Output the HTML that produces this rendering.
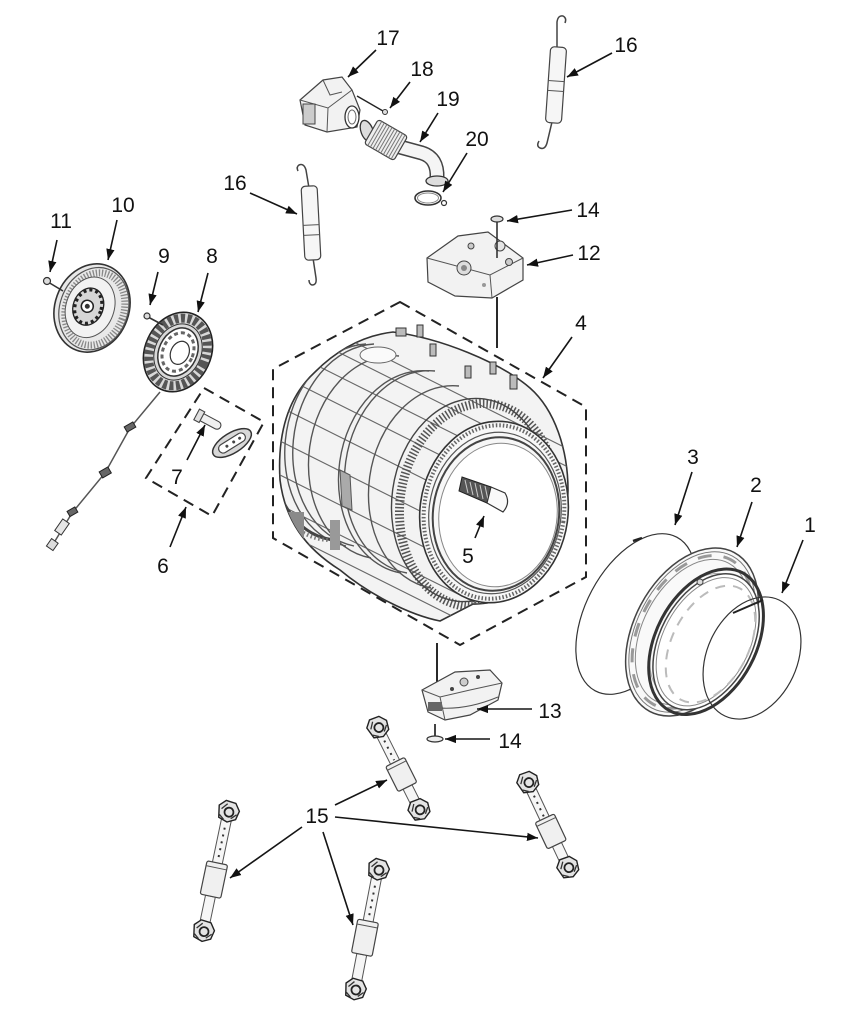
<!DOCTYPE html>
<html><head><meta charset="utf-8"><style>
html,body{margin:0;padding:0;background:#fff}
svg{display:block}
text{font-family:"Liberation Sans",Arial,sans-serif;font-size:21px;fill:#111}
.ld{stroke:#151515;stroke-width:1.6;fill:none}
.ds{stroke:#222;stroke-width:2;fill:none;stroke-dasharray:11 7}
.p{fill:#f2f2f2;stroke:#444;stroke-width:1.2}
.t{fill:none;stroke:#555;stroke-width:1}
.k{fill:none;stroke:#333;stroke-width:1.4}
</style></head><body>
<svg width="867" height="1024" viewBox="0 0 867 1024" xmlns="http://www.w3.org/2000/svg">
<defs>
<marker id="ah" viewBox="0 0 10 10" refX="10" refY="5" markerWidth="11" markerHeight="11" markerUnits="userSpaceOnUse" orient="auto"><path d="M0,1.2 L10,5 L0,8.8 z" fill="#111"/></marker>
<clipPath id="bc"><path d="M393,332 C440,338 500,362 530,388 C555,410 568,450 568,490 C568,560 520,605 473,604 L440,621 C410,615 370,595 340,570 C305,548 285,520 280,480 C277,430 290,395 315,372 C335,352 360,336 393,332 Z"/></clipPath>
<g id="br">
<path d="M-10,-5 L-4,-11 L6,-10 L11,-3 L9,6 L1,10 L-8,7 Z" fill="#e4e4e4" stroke="#222" stroke-width="1.4"/>
<circle cx="1" cy="0" r="4.5" fill="none" stroke="#222" stroke-width="1.8"/>
<path d="M-7,-2 L-2,-8 M4,6 L9,1 M-8,4 L-3,8" stroke="#333" stroke-width="1.3"/>
</g>
</defs>

<!-- ===== Tub (4) ===== -->
<path d="M393,332 C440,338 500,362 530,388 C555,410 568,450 568,490 C568,560 520,605 473,604 L440,621 C410,615 370,595 340,570 C305,548 285,520 280,480 C277,430 290,395 315,372 C335,352 360,336 393,332 Z" fill="#f3f3f3" stroke="#333" stroke-width="1.6"/>
<g clip-path="url(#bc)">
  <g stroke="#666" stroke-width="1.1" fill="none">
    <line x1="270" y1="300" x2="570" y2="450"/>
    <line x1="270" y1="318" x2="570" y2="468"/>
    <line x1="270" y1="342" x2="570" y2="492"/>
    <line x1="270" y1="370" x2="570" y2="520"/>
    <line x1="270" y1="402" x2="570" y2="552"/>
    <line x1="270" y1="436" x2="570" y2="586"/>
    <line x1="270" y1="470" x2="570" y2="620"/>
    <line x1="270" y1="500" x2="570" y2="650"/>
    <line x1="270" y1="525" x2="570" y2="675"/>
  </g>
  <g fill="none" stroke="#555" stroke-width="1.4">
    <path d="M366,344 A78 102 8 0 0 346,546"/>
    <path d="M374,344 A78 102 8 0 0 354,546"/>
    <path d="M399,356 A78 102 8 0 0 371,558"/>
    <path d="M429,371 A78 102 8 0 0 401,573"/>
    <path d="M435,371 A78 102 8 0 0 407,573"/>
    <path d="M459,386 A78 102 8 0 0 431,588"/>
  </g>
  <path d="M352,338 A72 100 8 0 0 338,540" fill="none" stroke="#444" stroke-width="3"/>
  <path d="M344,338 A72 100 8 0 0 330,540" fill="none" stroke="#777" stroke-width="4" stroke-dasharray="1.5 2.5"/>
  <ellipse cx="478" cy="505" rx="78" ry="102" transform="rotate(8 478 505)" fill="none" stroke="#555" stroke-width="9" stroke-dasharray="1.5 2"/>
  <ellipse cx="470" cy="500" rx="78" ry="102" transform="rotate(8 470 500)" fill="none" stroke="#444" stroke-width="1.4"/>
  <rect x="286" y="512" width="18" height="28" fill="#8a8a8a"/>
  <rect x="330" y="520" width="10" height="30" fill="#999"/>
  <path d="M340,470 L350,475 L352,510 L342,506 Z" fill="#aaa" stroke="#555"/>
  <ellipse cx="378" cy="355" rx="18" ry="8" fill="#fafafa" stroke="#666"/>
</g>
<!-- posts on top -->
<g fill="#bbb" stroke="#333" stroke-width="1">
  <rect x="417" y="325" width="6" height="12"/>
  <rect x="430" y="344" width="6" height="12"/>
  <rect x="465" y="366" width="6" height="12"/>
  <rect x="490" y="362" width="6" height="12"/>
  <rect x="510" y="375" width="7" height="14"/>
  <rect x="396" y="328" width="10" height="8"/>
</g>
<!-- front face -->
<ellipse cx="494" cy="512" rx="74" ry="91" transform="rotate(8 494 512)" fill="#f7f7f7" stroke="#333" stroke-width="1.6"/>
<ellipse cx="494" cy="512" rx="70" ry="87" transform="rotate(8 494 512)" fill="none" stroke="#666" stroke-width="4" stroke-dasharray="1.5 2"/>
<ellipse cx="495" cy="513" rx="66" ry="81" transform="rotate(8 495 513)" fill="none" stroke="#555" stroke-width="1.2"/>
<ellipse cx="496" cy="514" rx="63" ry="77" transform="rotate(8 496 514)" fill="none" stroke="#444" stroke-width="2"/>
<ellipse cx="498" cy="515" rx="59" ry="72" transform="rotate(8 498 515)" fill="#fff" stroke="#888" stroke-width="1"/>
<!-- shaft (5) -->
<path d="M462,477 L491,487 L487,503 L459,491 Z" fill="#555" stroke="#222"/>
<path d="M465,480 L468,493 M470,482 L473,495 M475,483 L478,497 M480,485 L483,499 M485,486 L488,500" stroke="#ccc" stroke-width="1"/>
<path d="M491,487 L505,493 Q511,503 503,512 L487,503 Z" fill="#fafafa" stroke="#333" stroke-width="1.2"/>

<!-- dashed hexagon 4 -->
<path class="ds" d="M400,302 L586,407 L586,577 L460,645 L273,538 L273,369 Z"/>
<!-- connector lines -->
<line x1="497" y1="297" x2="497" y2="348" stroke="#111" stroke-width="1.8"/>
<line x1="437" y1="643" x2="437" y2="706" stroke="#111" stroke-width="1.8"/>

<!-- ===== Ring 3 ===== -->
<ellipse cx="636" cy="614" rx="50" ry="87" transform="rotate(28 636 614)" fill="none" stroke="#333" stroke-width="1.2"/>
<path d="M633,541 L642,538" stroke="#222" stroke-width="2.5"/>
<!-- ===== Ring 2 ===== -->
<g transform="translate(692,632) rotate(28)">
  <ellipse rx="58" ry="90" fill="#f9f9f9" stroke="#444" stroke-width="1.5"/>
  <ellipse rx="55" ry="86" fill="none" stroke="#777" stroke-width="1"/>
  <ellipse rx="52" ry="82" fill="none" stroke="#999" stroke-width="3" stroke-dasharray="14 12"/>
  <ellipse rx="49" ry="78" fill="none" stroke="#888" stroke-width="1"/>
  <ellipse cx="8" cy="1" rx="42" ry="68" fill="none" stroke="#aaa" stroke-width="1"/>
  <ellipse cx="17" cy="2" rx="50" ry="78" fill="none" stroke="#333" stroke-width="3"/>
  <ellipse cx="17" cy="2" rx="46" ry="73" fill="#fff" stroke="#444" stroke-width="1.5"/>
  <ellipse cx="17" cy="2" rx="43" ry="69" fill="none" stroke="#888" stroke-width="1"/>
  <ellipse cx="22" cy="2" rx="38" ry="63" fill="none" stroke="#bbb" stroke-width="2" stroke-dasharray="10 8"/>
</g>
<circle cx="700" cy="582" r="3" fill="#ddd" stroke="#444"/>
<line x1="733" y1="613" x2="763" y2="600" stroke="#222" stroke-width="2"/>
<!-- ===== Ring 1 ===== -->
<ellipse cx="752" cy="658" rx="45" ry="64" transform="rotate(25 752 658)" fill="none" stroke="#333" stroke-width="1.2"/>

<!-- ===== Rotor 10 ===== -->
<g transform="translate(92,308) rotate(20)">
  <ellipse rx="37" ry="45" fill="#e8e8e8" stroke="#333" stroke-width="1.6"/>
  <ellipse cx="2" rx="34" ry="42" fill="none" stroke="#555" stroke-width="1.2"/>
  <ellipse cx="3" rx="29" ry="37" fill="none" stroke="#888" stroke-width="7" stroke-dasharray="1.3 1.7"/>
  <ellipse cx="-2" rx="24" ry="31" fill="#f2f2f2" stroke="#555" stroke-width="1"/>
  <ellipse cx="-4" rx="15" ry="19" fill="#d6d6d6" stroke="#222" stroke-width="1.3"/>
  <ellipse cx="-4" rx="13" ry="17" fill="none" stroke="#222" stroke-width="3" stroke-dasharray="3 3"/>
  <circle cx="-5" cy="0" r="6" fill="#fff" stroke="#222" stroke-width="1.5"/>
  <circle cx="-5" cy="0" r="2.5" fill="#333"/>
</g>
<!-- screw 11 -->
<line x1="48" y1="282" x2="63" y2="291" stroke="#333" stroke-width="1.6"/>
<circle cx="47" cy="281" r="3.5" fill="#ddd" stroke="#333" stroke-width="1.2"/>

<!-- ===== Stator 8 ===== -->
<g transform="translate(178,352) rotate(25)">
  <ellipse rx="33" ry="41" fill="#d8d8d8" stroke="#222" stroke-width="1.6"/>
  <ellipse rx="28" ry="35" fill="none" stroke="#555" stroke-width="9" stroke-dasharray="4 2.5"/>
  <ellipse rx="23" ry="29" fill="none" stroke="#333" stroke-width="1"/>
  <ellipse rx="19" ry="25" fill="#fff" stroke="#333" stroke-width="1.5"/>
  <ellipse rx="15" ry="20" fill="none" stroke="#666" stroke-width="3" stroke-dasharray="4 3"/>
  <ellipse cx="2" rx="9" ry="12" fill="#fff" stroke="#333" stroke-width="1.2"/>
</g>
<!-- screw 9 -->
<line x1="148" y1="317" x2="163" y2="325" stroke="#333" stroke-width="1.6"/>
<circle cx="147" cy="316" r="3" fill="#ddd" stroke="#333" stroke-width="1.2"/>
<!-- cable -->
<polyline points="160,392 130,428 105,473 72,513 52,546" fill="none" stroke="#555" stroke-width="1.5"/>
<g fill="#666" stroke="#222" stroke-width="1">
  <rect x="125" y="424" width="10" height="6" transform="rotate(-30 130 427)"/>
  <rect x="100" y="469" width="10" height="7" transform="rotate(-30 105 472)"/>
  <rect x="68" y="509" width="9" height="6" transform="rotate(-30 72 512)"/>
</g>
<rect x="58" y="520" width="8" height="14" fill="#e6e6e6" stroke="#333" transform="rotate(35 62 527)"/>
<rect x="48" y="540" width="8" height="9" fill="#ddd" stroke="#333" transform="rotate(35 52 545)"/>

<!-- dashed box 6 -->
<path class="ds" d="M204,388 L264,422 L212,516 L146,478 Z"/>
<!-- part 7 pin & grommet -->
<g transform="translate(209,421) rotate(28)">
  <rect x="-11" y="-4" width="24" height="8" rx="4" fill="#f0f0f0" stroke="#444" stroke-width="1.1"/>
  <rect x="-14" y="-6" width="6" height="12" fill="#e0e0e0" stroke="#444" stroke-width="1.1"/>
</g>
<g transform="translate(232,443) rotate(-32)">
  <ellipse rx="22" ry="10" fill="#d8d8d8" stroke="#333" stroke-width="1.5"/>
  <rect x="-15" y="-4.5" width="30" height="9" rx="4.5" fill="#fff" stroke="#444" stroke-width="1.2"/>
  <circle cx="-6" cy="0" r="1.5" fill="#444"/><circle cx="2" cy="0" r="1.5" fill="#444"/><circle cx="9" cy="0" r="1.5" fill="#444"/>
</g>

<!-- ===== Springs 16 ===== -->
<path d="M557,48 L557,22 Q558,15 563,16 Q567,18 565,23" fill="none" stroke="#444" stroke-width="1.5"/>
<path d="M552,122 L547,143 Q545,150 540,148 Q536,146 539,141" fill="none" stroke="#444" stroke-width="1.5"/>
<g transform="translate(556,85) rotate(4)">
  <rect x="-8" y="-38" width="16" height="76" rx="4" fill="#f6f6f6" stroke="#444" stroke-width="1.2"/>
  <line x1="-8" y1="-4" x2="8" y2="-4" stroke="#555"/>
  <line x1="-8" y1="6" x2="8" y2="6" stroke="#555"/>
</g>
<path d="M309,188 L306,170 Q304,163 299,165 Q296,167 298,171" fill="none" stroke="#444" stroke-width="1.5"/>
<path d="M313,258 L316,278 Q317,285 312,285 Q309,284 309,280" fill="none" stroke="#444" stroke-width="1.5"/>
<g transform="translate(311,223) rotate(-3)">
  <rect x="-8" y="-37" width="16" height="74" rx="4" fill="#f6f6f6" stroke="#444" stroke-width="1.2"/>
  <line x1="-8" y1="2" x2="8" y2="2" stroke="#555"/>
  <line x1="-8" y1="12" x2="8" y2="12" stroke="#555"/>
</g>

<!-- ===== Pump 17 ===== -->
<path d="M300,100 L323,80 L342,77 L352,90 L360,110 L357,127 L327,132 L305,125 Z" class="p"/>
<path d="M300,100 L328,108 L352,90 M328,108 L327,132 M323,80 L330,95 L342,92" class="t"/>
<rect x="303" y="104" width="12" height="20" fill="#ccc" stroke="#444"/>
<ellipse cx="352" cy="117" rx="7" ry="11" fill="#fff" stroke="#333" stroke-width="1.3"/>
<ellipse cx="352" cy="117" rx="4" ry="7" fill="none" stroke="#666"/>
<!-- screw 18 -->
<line x1="357" y1="96" x2="383" y2="111" stroke="#222" stroke-width="1.4"/>
<circle cx="385" cy="112" r="2.5" fill="#ddd" stroke="#333"/>
<!-- hose 19 -->
<ellipse cx="367" cy="131" rx="6" ry="11" transform="rotate(-20 367 131)" fill="#ddd" stroke="#333" stroke-width="1.3"/>
<path d="M400,147 L422,153 Q438,158 437,178" fill="none" stroke="#444" stroke-width="15"/>
<path d="M400,147 L422,153 Q438,158 437,178" fill="none" stroke="#f5f5f5" stroke-width="12"/>
<g transform="translate(386,140) rotate(30)">
  <rect x="-17" y="-14" width="34" height="28" rx="3" fill="#eee" stroke="#444" stroke-width="1.2"/>
  <path d="M-13,-14 V14 M-10,-14 V14 M-7,-14 V14 M-4,-14 V14 M-1,-14 V14 M2,-14 V14 M5,-14 V14 M8,-14 V14 M11,-14 V14 M14,-14 V14" stroke="#777" stroke-width="1"/>
</g>
<ellipse cx="437" cy="181" rx="11" ry="5" fill="#ddd" stroke="#333" stroke-width="1.3"/>
<!-- clamp 20 -->
<ellipse cx="428" cy="198" rx="13" ry="7" fill="none" stroke="#333" stroke-width="1.6"/>
<ellipse cx="428" cy="198" rx="10.5" ry="5" fill="none" stroke="#888" stroke-width="1"/>
<circle cx="444" cy="203" r="2.5" fill="none" stroke="#333" stroke-width="1.2"/>

<!-- ===== 14 top & 12 ===== -->
<path d="M427,258 L458,236 L488,232 L523,258 L523,280 L492,298 L455,296 L428,282 Z" class="p"/>
<path d="M427,258 L490,275 L523,258 M490,275 L492,298" class="t"/>
<circle cx="464" cy="268" r="7" fill="#ddd" stroke="#444"/><circle cx="464" cy="268" r="3" fill="#888"/>
<circle cx="500" cy="246" r="5" fill="#e4e4e4" stroke="#444"/>
<circle cx="509" cy="262" r="3.5" fill="#ccc" stroke="#444"/>
<circle cx="471" cy="246" r="3" fill="#ccc" stroke="#444"/>
<circle cx="484" cy="285" r="2" fill="#999"/>
<line x1="497" y1="221" x2="497" y2="258" stroke="#333" stroke-width="1.6"/>
<ellipse cx="497" cy="219" rx="6" ry="3" fill="#ddd" stroke="#333" stroke-width="1.2"/>

<!-- ===== 13 & 14 bottom ===== -->
<path d="M422,690 L455,672 L490,670 L502,683 L498,700 L470,715 L445,720 L428,712 Z" class="p"/>
<path d="M422,690 L440,697 L470,690 L502,683 M430,707 Q462,712 498,697 M440,697 L445,720" class="t"/>
<circle cx="464" cy="682" r="4" fill="#ccc" stroke="#444"/>
<circle cx="452" cy="689" r="2" fill="#444"/><circle cx="478" cy="677" r="2" fill="#444"/>
<rect x="428" y="702" width="14" height="9" fill="#666"/>
<line x1="435" y1="724" x2="435" y2="737" stroke="#444" stroke-width="2"/>
<ellipse cx="435" cy="739" rx="8" ry="3" fill="#eee" stroke="#333" stroke-width="1.2"/>

<!-- ===== Shocks 15 ===== -->
<g transform="translate(378,728) rotate(-26.6)">
  <rect x="-5" y="6" width="10" height="33" fill="#f6f6f6" stroke="#555"/>
  <line x1="0" y1="14" x2="0" y2="36" stroke="#333" stroke-width="2" stroke-dasharray="2 5"/>
  <rect x="-5" y="66" width="10" height="20" fill="#f6f6f6" stroke="#555"/>
  <rect x="-10.5" y="38" width="21" height="28" rx="2" fill="#f0f0f0" stroke="#444" stroke-width="1.2"/>
  <line x1="-10.5" y1="42" x2="10.5" y2="42" stroke="#555"/>
  <use href="#br"/><use href="#br" y="92"/>
</g>
<g transform="translate(528,783) rotate(-25.2)">
  <rect x="-5" y="6" width="10" height="34" fill="#f6f6f6" stroke="#555"/>
  <line x1="0" y1="14" x2="0" y2="37" stroke="#333" stroke-width="2" stroke-dasharray="2 5"/>
  <rect x="-5" y="68" width="10" height="20" fill="#f6f6f6" stroke="#555"/>
  <rect x="-10.5" y="39" width="21" height="29" rx="2" fill="#f0f0f0" stroke="#444" stroke-width="1.2"/>
  <line x1="-10.5" y1="43" x2="10.5" y2="43" stroke="#555"/>
  <use href="#br"/><use href="#br" y="94"/>
</g>
<g transform="translate(228,812) rotate(11.8)">
  <rect x="-5" y="6" width="10" height="47" fill="#f6f6f6" stroke="#555"/>
  <line x1="0" y1="16" x2="0" y2="50" stroke="#333" stroke-width="2" stroke-dasharray="2 5"/>
  <rect x="-5" y="86" width="10" height="30" fill="#f6f6f6" stroke="#555"/>
  <rect x="-10.5" y="52" width="21" height="34" rx="2" fill="#f0f0f0" stroke="#444" stroke-width="1.2"/>
  <line x1="-10.5" y1="57" x2="10.5" y2="57" stroke="#555"/>
  <use href="#br"/><use href="#br" y="122"/>
</g>
<g transform="translate(378,870) rotate(10.9)">
  <rect x="-5" y="6" width="10" height="47" fill="#f6f6f6" stroke="#555"/>
  <line x1="0" y1="16" x2="0" y2="50" stroke="#333" stroke-width="2" stroke-dasharray="2 5"/>
  <rect x="-5" y="86" width="10" height="30" fill="#f6f6f6" stroke="#555"/>
  <rect x="-10.5" y="52" width="21" height="34" rx="2" fill="#f0f0f0" stroke="#444" stroke-width="1.2"/>
  <line x1="-10.5" y1="57" x2="10.5" y2="57" stroke="#555"/>
  <use href="#br"/><use href="#br" y="122"/>
</g>

<!-- ===== Leader arrows ===== -->
<g class="ld">
  <line x1="376" y1="50" x2="348" y2="77" marker-end="url(#ah)"/>
  <line x1="410" y1="82" x2="390" y2="108" marker-end="url(#ah)"/>
  <line x1="438" y1="113" x2="420" y2="142" marker-end="url(#ah)"/>
  <line x1="467" y1="153" x2="443" y2="192" marker-end="url(#ah)"/>
  <line x1="612" y1="53" x2="567" y2="77" marker-end="url(#ah)"/>
  <line x1="250" y1="193" x2="297" y2="214" marker-end="url(#ah)"/>
  <line x1="572" y1="210" x2="507" y2="221" marker-end="url(#ah)"/>
  <line x1="573" y1="255" x2="527" y2="265" marker-end="url(#ah)"/>
  <line x1="57" y1="240" x2="50" y2="272" marker-end="url(#ah)"/>
  <line x1="117" y1="220" x2="108" y2="260" marker-end="url(#ah)"/>
  <line x1="158" y1="272" x2="150" y2="305" marker-end="url(#ah)"/>
  <line x1="208" y1="273" x2="198" y2="312" marker-end="url(#ah)"/>
  <line x1="572" y1="337" x2="543" y2="378" marker-end="url(#ah)"/>
  <line x1="692" y1="472" x2="675" y2="525" marker-end="url(#ah)"/>
  <line x1="752" y1="502" x2="737" y2="547" marker-end="url(#ah)"/>
  <line x1="803" y1="540" x2="782" y2="593" marker-end="url(#ah)"/>
  <line x1="187" y1="460" x2="205" y2="425" marker-end="url(#ah)"/>
  <line x1="170" y1="547" x2="186" y2="507" marker-end="url(#ah)"/>
  <line x1="475" y1="538" x2="484" y2="516" marker-end="url(#ah)"/>
  <line x1="532" y1="709" x2="477" y2="709" marker-end="url(#ah)"/>
  <line x1="490" y1="739" x2="445" y2="739" marker-end="url(#ah)"/>
  <line x1="335" y1="805" x2="387" y2="780" marker-end="url(#ah)"/>
  <line x1="335" y1="817" x2="538" y2="838" marker-end="url(#ah)"/>
  <line x1="302" y1="827" x2="230" y2="878" marker-end="url(#ah)"/>
  <line x1="323" y1="832" x2="353" y2="925" marker-end="url(#ah)"/>
</g>

<!-- ===== Labels ===== -->
<g text-anchor="middle">
  <text x="388" y="45">17</text>
  <text x="422" y="76">18</text>
  <text x="448" y="106">19</text>
  <text x="477" y="146">20</text>
  <text x="626" y="52">16</text>
  <text x="235" y="190">16</text>
  <text x="588" y="217">14</text>
  <text x="589" y="260">12</text>
  <text x="61" y="228">11</text>
  <text x="123" y="212">10</text>
  <text x="164" y="263">9</text>
  <text x="212" y="263">8</text>
  <text x="581" y="330">4</text>
  <text x="693" y="464">3</text>
  <text x="756" y="492">2</text>
  <text x="810" y="532">1</text>
  <text x="177" y="484">7</text>
  <text x="163" y="573">6</text>
  <text x="468" y="563">5</text>
  <text x="550" y="718">13</text>
  <text x="510" y="748">14</text>
  <text x="317" y="823">15</text>
</g>
</svg>
</body></html>
